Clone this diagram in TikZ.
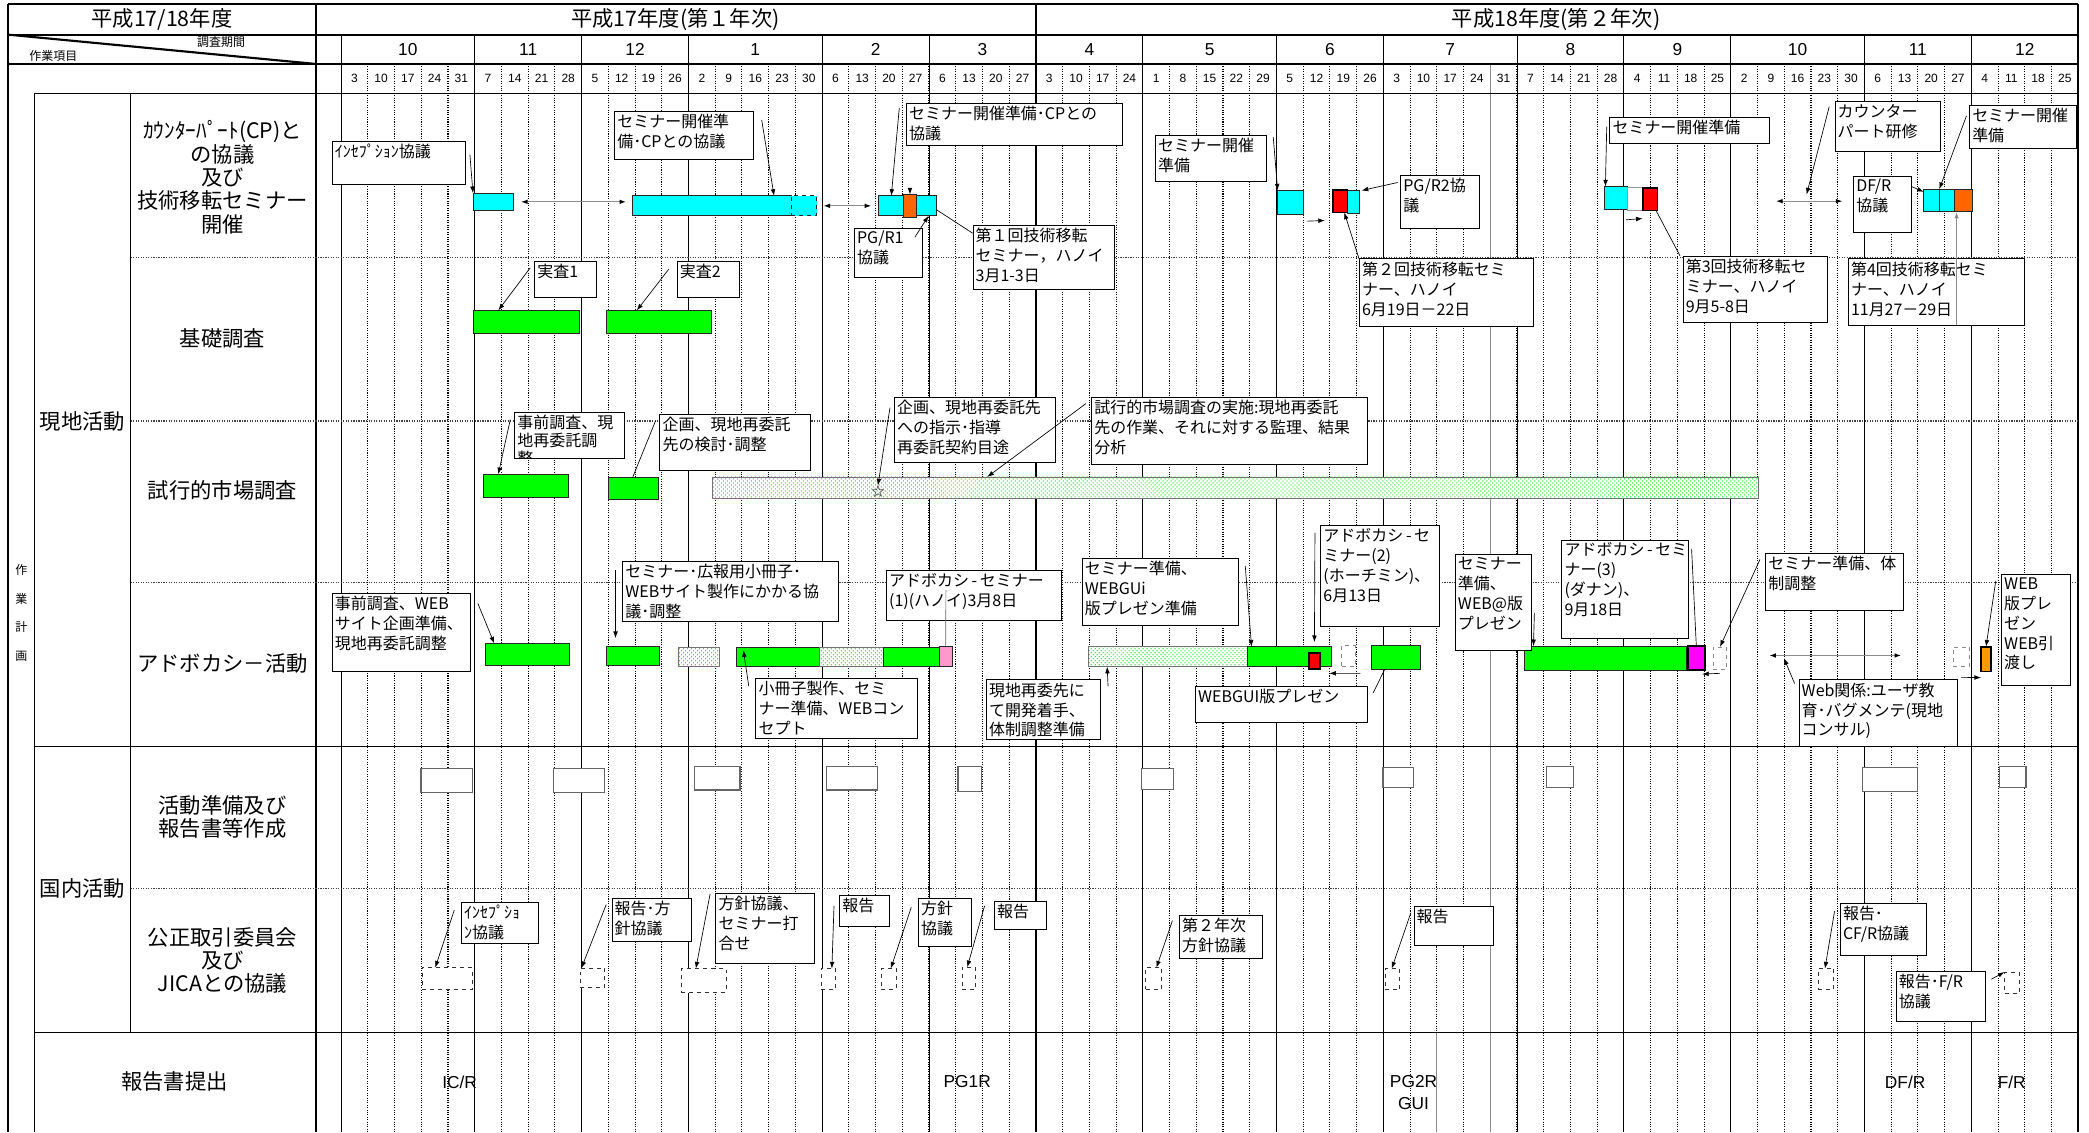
\documentclass[tikz,border=0pt]{standalone}
\usepackage{fontspec}
\setmainfont{Noto Sans CJK JP}
\newfontfamily\numfont{Liberation Sans}
\usetikzlibrary{arrows.meta, patterns}
\definecolor{cpcyan}{HTML}{00FFFF}
\definecolor{cpgreen}{HTML}{00FF00}
\definecolor{cporange}{HTML}{FF6600}
\definecolor{cpamber}{HTML}{FF9900}
\definecolor{cpred}{HTML}{FF0000}
\definecolor{cpmagenta}{HTML}{FF00FF}
\definecolor{cppink}{HTML}{FF99CC}
\tikzset{
  weekline/.style = {densely dotted, line width=0.8pt},
  monthline/.style = {line width=0.7pt},
  thickline/.style = {line width=1.6pt},
  rowsep/.style = {densely dotted, line width=0.9pt, black!75},
  softline/.style = {line width=1pt, black!45},
  hdtitle/.style = {font=\fontsize{16}{18}\selectfont},
  hdmonth/.style = {font=\numfont\fontsize{13}{14}\selectfont},
  hdday/.style = {font=\numfont\fontsize{9}{10}\selectfont, inner sep=0pt},
  grouplabel/.style = {font=\fontsize{16}{18}\selectfont},
  rowlabel/.style = {font=\fontsize{16}{17.5}\selectfont, align=center},
  reportlabel/.style = {font=\numfont\fontsize{13}{16}\selectfont, align=center},
  barbase/.style = {rectangle, draw=black!85, line width=0.6pt, inner sep=0pt, outer sep=0pt},
  cyanbar/.style = {barbase, fill=cpcyan},
  cyanopen/.style = {barbase, fill=cpcyan, dashed},
  greenbar/.style = {barbase, fill=cpgreen},
  orangebar/.style = {barbase, fill=cporange},
  amberbar/.style = {barbase, fill=cpamber, draw=black, line width=1.3pt},
  redbar/.style = {barbase, fill=cpred, draw=black, line width=1.3pt},
  magentabar/.style = {barbase, fill=cpmagenta, draw=black, line width=1.3pt},
  pinkbar/.style = {barbase, fill=cppink},
  dotbar/.style = {barbase, draw=black!55, preaction={fill=white}, pattern=crosshatch dots, pattern color=cpgreen!90!black},
  gapbar/.style = {barbase, draw=black!40, fill=white},
  ghostbar/.style = {barbase, draw=black!45, dashed, fill=white},
  prepbox/.style = {barbase, draw=black!60, line width=0.9pt, fill=white},
  meetbox/.style = {barbase, draw=black!80, dashed, fill=white},
  callout/.style = {draw, fill=white, line width=0.7pt, anchor=north west, inner sep=2pt, font=\fontsize{12}{15}\selectfont},
  arr/.style = {-{Latex[length=5pt,width=3.5pt]}, line width=0.5pt},
  lnk/.style = {line width=0.5pt},
  dbl/.style = {{Latex[length=5pt,width=3.5pt,color=black]}-{Latex[length=5pt,width=3.5pt,color=black]}, line width=0.9pt, draw=black!45}
}
% callout box: name, x, y (top left), width, height, text
\newcommand{\callbox}[6]{%
  \node[callout] (#1) at (#2,#3) {\parbox[t][\dimexpr #5pt-4pt\relax][t]{\dimexpr #4pt-4pt\relax}{\raggedright #6}};%
}
% bar: name, style, x1, y1, x2, y2
\newcommand{\ganttbar}[6]{%
  \node[#2, minimum width={(#5)-(#3)}, minimum height={(#6)-(#4)}] (#1) at ({((#3)+(#5))/2},{((#4)+(#6))/2}) {};%
}

\begin{document}
\begin{tikzpicture}[x=1pt, y=-1pt]
\useasboundingbox (0,0) rectangle (1568,850);

% ----- grid -----
\foreach \i in {1,...,64}
  \draw[weekline] ({256+20.06*\i},48) -- ({256+20.06*\i},850);
\foreach \i in {5,9,13,18,22,30,35,39,44,48,52,57,61}
  \draw[monthline] ({256+20.06*\i},26) -- ({256+20.06*\i},850);
\draw[softline] ({256+20.06*43},48) -- ({256+20.06*43},850);
\draw[softline] ({256+20.06*41},775) -- ({256+20.06*41},850);

% frame and header rules
\draw[thickline] (6,3) -- (1560,3);
\draw[thickline] (6,26) -- (1560,26);
\draw[thickline] (6,48) -- (1560,48);
\draw[monthline] (26,70) -- (1560,70);
\draw[thickline] (6,3) -- (6,850);
\draw[thickline] (1560,3) -- (1560,850);
\draw[thickline] (237,3) -- (237,850);
\draw[thickline] (777.6,3) -- (777.6,850);
\draw[monthline] (256,26) -- (256,850);
\draw[monthline] (26,70) -- (26,850);
\draw[monthline] (98,70) -- (98,775);
\draw[thickline] (6,26) -- (237,48);

% row rules
\draw[rowsep] (98,193) -- (1560,193);
\draw[rowsep] (98,316) -- (1560,316);
\draw[rowsep] (98,437) -- (1560,437);
\draw[monthline] (26,560) -- (1560,560);
\draw[rowsep] (98,667) -- (1560,667);
\draw[monthline] (26,775) -- (1560,775);

% ----- header -----
\node[hdtitle] (t0) at (121.5,14.5) {平成17/18年度};
\node[hdtitle] (t1) at (507,14.5) {平成17年度(第１年次)};
\node[hdtitle] (t2) at (1168,14.5) {平成18年度(第２年次)};
\node[font=\fontsize{9}{10}\selectfont] (hd1) at (166,31.5) {調査期間};
\node[font=\fontsize{9}{10}\selectfont] (hd2) at (40,42) {作業項目};

\foreach \m/\a/\b [count=\k] in {10/0/5,11/5/9,12/9/13,1/13/18,2/18/22,3/22/26,4/26/30,5/30/35,6/35/39,7/39/44,8/44/48,9/48/52,10/52/57,11/57/61,12/61/65}
  \node[hdmonth] (mo\k) at ({256+20.06*(\a+\b)/2},37) {\m};

\foreach \d [count=\k from 0] in {3,10,17,24,31,7,14,21,28,5,12,19,26,2,9,16,23,30,6,13,20,27,6,13,20,27,3,10,17,24,1,8,15,22,29,5,12,19,26,3,10,17,24,31,7,14,21,28,4,11,18,25,2,9,16,23,30,6,13,20,27,4,11,18,25}
  \node[hdday] (dy\k) at ({256+20.06*(\k+0.5)},59) {\d};

% ----- row labels -----
\node[font=\fontsize{9}{21.4}\selectfont, align=center] (v1) at (16,460) {作\\業\\計\\画};
\node[grouplabel] (g1) at (62,316) {現地活動};
\node[grouplabel] (g2) at (62,667) {国内活動};
\node[rowlabel] (s1) at (167,133) {ｶｳﾝﾀｰﾊﾟｰﾄ(CP)と\\の協議\\及び\\技術移転セミナー\\開催};
\node[rowlabel] (s2) at (167,254) {基礎調査};
\node[rowlabel] (s3) at (167,368) {試行的市場調査};
\node[rowlabel] (s4) at (167,498) {アドボカシ－活動};
\node[rowlabel] (s5) at (167,613) {活動準備及び\\報告書等作成};
\node[rowlabel] (s6) at (167,721) {公正取引委員会\\及び\\JICAとの協議};
\node[rowlabel] (s7) at (131,812) {報告書提出};

% ----- row 1: CP meetings and seminars -----
\ganttbar{a1}{cyanbar}{355}{145}{385}{158}
\ganttbar{a2}{cyanbar}{475}{147}{594}{162}
\ganttbar{a3}{cyanopen}{594}{147}{613}{162}
\ganttbar{a4}{cyanbar}{659}{147}{703}{162}
\ganttbar{a5}{orangebar}{678}{146}{688}{163}
\ganttbar{a6}{cyanbar}{959}{143}{978}{161}
\ganttbar{a8}{cyanbar}{1011}{143}{1020}{160}
\ganttbar{a7}{redbar}{1000.5}{142.5}{1011.5}{159.5}
\ganttbar{a9}{cyanbar}{1204}{140}{1221.5}{157}
\ganttbar{a10}{gapbar}{1221.5}{141}{1233}{158}
\ganttbar{a11}{redbar}{1233}{141}{1244}{158}
\ganttbar{a12}{cyanbar}{1444}{142}{1455.6}{159}
\ganttbar{a13}{cyanbar}{1455.6}{142}{1466.6}{159}
\ganttbar{a14}{orangebar}{1466.6}{142}{1480.6}{159}

\callbox{cA1}{249}{106}{100}{32}{ｲﾝｾﾌﾟｼｮﾝ協議}
\callbox{cA2}{461}{83}{104}{36}{セミナー開催準\\備･CPとの協議}
\callbox{cA3}{680}{77}{162}{32}{セミナー開催準備･CPとの\\協議}
\callbox{cA4}{641}{171}{51}{37}{PG/R1\\協議}
\callbox{cA5}{730}{169}{106}{48}{第１回技術移転\\セミナー，ハノイ\\3月1-3日}
\callbox{cA6}{867}{101}{83}{35}{セミナー開催\\準備}
\callbox{cA7}{1051}{131}{59}{40}{PG/R2協\\議}
\callbox{cA8}{1020}{194}{131}{51}{第２回技術移転セミ\\ナー、ハノイ\\6月19日－22日}
\callbox{cA9}{1208}{88}{120}{19}{セミナー開催準備}
\callbox{cA10}{1263}{192}{108}{50}{第3回技術移転セ\\ミナー、ハノイ\\9月5-8日}
\callbox{cA11}{1377}{76}{79}{37}{カウンター\\パート研修}
\callbox{cA12}{1391}{132}{43}{42}{DF/R\\協議}
\callbox{cA13}{1478}{79}{80}{32}{セミナー開催\\準備}
\callbox{cA14}{1387}{194}{132}{50}{第4回技術移転セミ\\ナー、ハノイ\\11月27－29日}

\coordinate (p3a) at (1333,151);
\coordinate (p3b) at (1383,151);
\coordinate (p3m) at (1356,146);
\coordinate (v14) at (1468.6,244);

% Row 1 connectors
\draw[arr] ([xshift=3pt,yshift=-10pt]cA1.north east) -- (a1.north west);
\draw[dbl] ([xshift=6pt]a1.east) -- ([xshift=-5pt]a1.east -| a2.west);
\draw[arr] ([xshift=6pt,yshift=-7pt]cA2.north east) -- ([xshift=-13pt]a2.north east);
\draw[dbl] ([xshift=5pt]a3.east) -- ([xshift=-5pt]a4.west);
\draw[arr] ([xshift=-5pt,yshift=-4pt]cA3.north west) -- ([xshift=10pt]a4.north west);
\draw[arr] ([yshift=5pt]a5.north) -- (a5.north);
\draw[arr] ([xshift=-6pt,yshift=-7pt]cA4.north east) -- ([xshift=-6pt]a4.south east);
\draw[lnk] ([yshift=-3pt]a4.east) -- ([yshift=-6pt]cA5.north west);
\draw[arr] ([xshift=5pt,yshift=-2pt]cA6.north east) -- (a6.north west);
\draw[arr] ([xshift=3pt,yshift=-5pt]a6.south east) -- ([xshift=-6pt,yshift=-6pt]a7.south west);
\draw[arr] ([xshift=-2pt,yshift=-6pt]cA7.north west) -- ([xshift=2pt]a8.north east);
\draw[arr] (cA8.north west) -- ([xshift=3pt]a7.south);
\draw[arr] ([xshift=-2pt,yshift=-7pt]cA9.north west) -- ([xshift=1pt]a9.north west);
\draw[arr] ([xshift=-1pt,yshift=-7pt]a10.south west) -- ([yshift=-6pt]a11.south west);
\draw[lnk] ([xshift=-1pt]a11.south east) -- ([xshift=-2pt]cA10.north west);
\draw[dbl] (p3a) -- (p3b);
\draw[arr] ([xshift=-4pt,yshift=-4pt]cA11.north west) -- (p3m);
\draw[arr] ([yshift=-8pt]cA12.north east) -- ([yshift=-2pt]a12.north west);
\draw[arr] ([xshift=-2pt,yshift=-8pt]cA13.north west) -- (a13.north west);
\draw[arr, black!45, line width=0.9pt] (v14) -- ([xshift=2pt]a14.south west);

% ----- row 2: basic survey -----
\ganttbar{b1}{greenbar}{355}{233}{435}{250}
\ganttbar{b2}{greenbar}{455}{233}{534}{250}
\callbox{cB1}{401}{196}{46}{27}{実査1}
\callbox{cB2}{508}{196}{47}{27}{実査2}
\draw[arr] ([xshift=-3pt,yshift=-5pt]cB1.north west) -- ([xshift=19pt]b1.north west);
\draw[arr] ([xshift=-6pt,yshift=-6pt]cB2.north west) -- ([xshift=23pt]b2.north west);

% ----- row 3: pilot market survey -----
\ganttbar{c1}{greenbar}{363}{356}{427}{373}
\ganttbar{c2}{greenbar}{457}{358}{494}{374.5}
\ganttbar{c3}{dotbar}{535}{358}{1320}{374}
\node[font=\fontsize{10}{10}\selectfont, inner sep=0pt] (st) at (659,369) {☆};
\begin{scope}
  \clip (380,300) rectangle (475,344.5);
  \callbox{cC1}{386}{309}{82}{35}{\fontsize{12}{13.5}\selectfont 事前調査、現\\地再委託調\\整}
\end{scope}
\callbox{cC2}{495}{311}{113}{42}{企画、現地再委託\\先の検討･調整}
\callbox{cC3}{671}{298}{121}{49}{企画、現地再委託先\\への指示･指導\\再委託契約目途}
\callbox{cC4}{819}{298}{207}{50}{試行的市場調査の実施:現地再委託\\先の作業、それに対する監理、結果\\分析}
\draw[arr] ([xshift=-3pt,yshift=-6pt]cC1.north west) -- ([xshift=11pt]c1.north west);
\draw[lnk] ([xshift=-3pt,yshift=-5pt]cC2.north west) -- ([xshift=18pt]c2.north west);
\draw[arr] ([xshift=-3pt,yshift=-8pt]cC3.north west) -- (st.north);
\draw[arr] ([xshift=-4pt,yshift=-5pt]cC4.north west) -- ([xshift=206pt]c3.north west);

% ----- row 4: advocacy -----
\ganttbar{d1}{greenbar}{364}{483}{427.4}{499.6}
\ganttbar{d2}{greenbar}{455}{485}{495}{499.6}
\ganttbar{d3}{dotbar}{509}{486}{540}{500}
\ganttbar{d4}{greenbar}{553}{486}{615}{500}
\ganttbar{d5}{dotbar}{615}{486}{663}{500}
\ganttbar{d6}{greenbar}{663}{486}{705}{500}
\ganttbar{d7}{pinkbar}{705}{485}{714.6}{500}
\ganttbar{d8}{dotbar}{817}{485.4}{936.4}{500.4}
\ganttbar{d9}{greenbar}{936.4}{485.4}{999.6}{500.4}
\ganttbar{d10}{redbar}{982.5}{490}{990.7}{502.4}
\ganttbar{d11}{ghostbar}{1007}{484.8}{1017}{500.4}
\ganttbar{d12}{greenbar}{1029.4}{484.6}{1066}{502.4}
\ganttbar{d13}{greenbar}{1144}{485}{1265.5}{503}
\ganttbar{d14}{magentabar}{1267}{485}{1279.5}{503}
\ganttbar{d15}{ghostbar}{1286}{485.6}{1296}{502.4}
\ganttbar{d16}{ghostbar}{1466}{485.6}{1478.5}{500.4}
\ganttbar{d17}{amberbar}{1487}{485.4}{1494.4}{504}

\callbox{cD1}{249}{445}{104}{59}{事前調査、WEB\\サイト企画準備、\\現地再委託調整}
\callbox{cD2}{467}{421}{162}{45}{セミナー･広報用小冊子･\\WEBサイト製作にかかる協\\議･調整}
\callbox{cD3}{567}{509}{121}{45}{小冊子製作、セミ\\ナー準備、WEBコン\\セプト}
\callbox{cD4}{665}{428}{131}{37}{\mbox{アドボカシ\,-\,セミナー}\\(1)(ハノイ)3月8日}
\callbox{cD5}{740}{510}{86}{45}{現地再委先に\\て開発着手、\\体制調整準備}
\callbox{cD6}{812}{419}{117}{50}{セミナー準備、\\WEBGUi\\版プレゼン準備}
\callbox{cD7}{897}{515}{129}{27}{WEBGUI版プレゼン}
\callbox{cD8}{991}{394}{89}{76}{\mbox{アドボカシ\,-\,セ}\\ミナー(2)\\(ホーチミン)、\\6月13日}
\callbox{cD9}{1092}{416}{57}{72}{セミナー\\準備、\\WEB@版\\プレゼン}
\callbox{cD10}{1172}{405}{95}{74}{\mbox{アドボカシ\,-\,セミ}\\ナー(3)\\(ダナン)、\\9月18日}
\callbox{cD11}{1325}{415}{103}{43}{セミナー準備、体\\制調整}
\callbox{cD12}{1350}{510}{119}{50}{Web関係:ユーザ教\\育･バグメンテ(現地\\コンサル)}
\callbox{cD13}{1502}{431}{52}{83}{WEB\\版プレ\\ゼン\\WEB引\\渡し}

\coordinate (u7) at (710,443);
\coordinate (p4a) at (1328,492);
\coordinate (p4b) at (1427,492);

% Row 4 connectors
\draw[arr] ([xshift=5pt,yshift=-8pt]cD1.north east) -- ([xshift=7pt]d1.north west);
\draw[arr] ([xshift=-5pt,yshift=-7pt]cD2.north west) -- ([xshift=7pt,yshift=6pt]d2.north west);
\draw[arr] ([xshift=-5pt,yshift=-6pt]cD3.north west) -- ([xshift=5pt,yshift=-2pt]d4.north west);
\draw[lnk, black!60] (u7) -- (d7.north);
\draw[arr] ([xshift=5pt,yshift=-5pt]cD5.north east) -- ([xshift=14pt]d8.south west);
\draw[arr] ([xshift=5pt,yshift=-6pt]cD6.north east) -- ([xshift=3pt]d9.north west);
\draw[arr] ([xshift=-4pt,yshift=-6pt]cD8.north west) -- ([yshift=8pt]d10.north);
\draw[arr] ([xshift=4pt,yshift=-5pt]d11.south east) -- ([xshift=7pt,yshift=-3pt]d10.south east);
\draw[lnk] ([xshift=4pt,yshift=-5pt]cD7.north east) -- ([xshift=10pt]d12.south west);
\draw[arr] ([xshift=2pt,yshift=-44pt]cD9.north east) -- ([xshift=7pt]d13.north west);
\draw[lnk] ([xshift=2pt,yshift=-7pt]cD10.north east) -- (d14.north);
\draw[arr] ([yshift=-3pt]d15.south) -- ([xshift=-2pt,yshift=-3pt]d14.south east);
\draw[arr] ([xshift=-4pt,yshift=-5pt]cD11.north west) -- (d15.north);
\draw[dbl] (p4a) -- (p4b);
\draw[arr] ([xshift=-3pt,yshift=-3pt]cD12.north west) -- ([xshift=11pt,yshift=-2pt]p4a);
\draw[arr] ([xshift=6pt,yshift=-8pt]d16.south west) -- ([yshift=-4.6pt]d17.south west);
\draw[arr] ([xshift=-4pt,yshift=-5pt]cD13.north west) -- (d17.north);

% ----- row 5: preparation and reports -----
\ganttbar{e1}{prepbox}{316}{576.7}{354.4}{594.7}
\ganttbar{e2}{prepbox}{415.2}{576.7}{454}{594.7}
\ganttbar{e3}{prepbox}{521.3}{575.4}{555.4}{593}
\ganttbar{e4}{prepbox}{620.4}{575.4}{658.6}{593}
\ganttbar{e5}{prepbox}{719}{575.4}{737}{594}
\ganttbar{e6}{prepbox}{857}{576.7}{881}{592.5}
\ganttbar{e7}{prepbox}{1038}{576}{1061}{591}
\ganttbar{e8}{prepbox}{1161}{575.4}{1181}{591}
\ganttbar{e9}{prepbox}{1398}{576}{1439}{594}
\ganttbar{e10}{prepbox}{1500.5}{575.4}{1520.7}{591}

% ----- row 6: meetings with JFTC and JICA -----
\ganttbar{f1}{meetbox}{316.7}{726.3}{354.4}{742.6}
\ganttbar{f2}{meetbox}{435.4}{726.7}{454}{741}
\ganttbar{f3}{meetbox}{511.3}{727}{545}{745}
\ganttbar{f4}{meetbox}{616.4}{727}{627.4}{742.6}
\ganttbar{f5}{meetbox}{661.6}{727}{672.6}{742.6}
\ganttbar{f6}{meetbox}{722}{726}{732}{742.6}
\ganttbar{f7}{meetbox}{860}{726.3}{872}{742.4}
\ganttbar{f8}{meetbox}{1039.6}{727}{1050.6}{743}
\ganttbar{f9}{meetbox}{1364.8}{727}{1376.4}{743}
\ganttbar{f10}{meetbox}{1504.6}{729.6}{1515.6}{745.3}

\callbox{cF1}{346}{677}{58}{31}{ｲﾝｾﾌﾟｼｮ\\ﾝ協議}
\callbox{cF2}{459}{674}{60}{32}{報告･方\\針協議}
\callbox{cF3}{537}{670}{74}{53}{方針協議、\\セミナー打\\合せ}
\callbox{cF4}{630}{672}{37}{23}{報告}
\callbox{cF5}{689}{674}{40}{36}{方針\\協議}
\callbox{cF6}{746}{676}{39}{21}{報告}
\callbox{cF7}{885}{687}{62}{32}{第２年次\\方針協議}
\callbox{cF8}{1061}{680}{60}{29}{報告}
\callbox{cF9}{1381}{678}{65}{39}{報告･\\CF/R協議}
\callbox{cF10}{1423}{729}{67}{37}{報告･F/R\\協議}

\draw[arr] ([xshift=-5pt,yshift=-6pt]cF1.north west) -- ([xshift=10pt]f1.north west);
\draw[arr] ([xshift=-4pt,yshift=-5pt]cF2.north west) -- ([xshift=1pt]f2.north west);
\draw[arr] ([xshift=-4pt,yshift=-1pt]cF3.north west) -- ([xshift=11pt]f3.north west);
\draw[arr] ([xshift=-4pt,yshift=-8pt]cF4.north west) -- ([xshift=8pt]f4.north west);
\draw[arr] ([xshift=-5pt,yshift=-7pt]cF5.north west) -- ([xshift=7pt]f5.north west);
\draw[arr] ([xshift=-7pt,yshift=-4pt]cF6.north west) -- ([xshift=4pt]f6.north west);
\draw[arr] ([xshift=-5pt,yshift=-4pt]cF7.north west) -- ([xshift=8pt]f7.north west);
\draw[arr] ([xshift=-2pt,yshift=-5pt]cF8.north west) -- ([xshift=5pt]f8.north west);
\draw[arr] ([xshift=-4pt,yshift=-6pt]cF9.north west) -- ([xshift=5pt]f9.north west);
\draw[arr] ([xshift=4pt,yshift=-6pt]cF10.north east) -- (f10.north west);

% ----- row 7: reports -----
\node[reportlabel] (r1) at (345,812) {IC/R};
\node[reportlabel] (r2) at (726,812) {PG1R};
\node[reportlabel] (r3) at (1061,820) {PG2R\\GUI};
\node[reportlabel] (r4) at (1430,812) {DF/R};
\node[reportlabel] (r5) at (1510,812) {F/R};

\end{tikzpicture}
\end{document}
